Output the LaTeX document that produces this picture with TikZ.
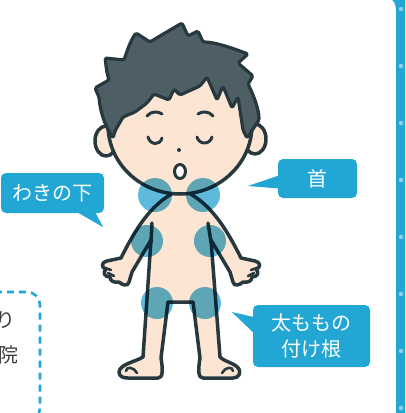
\documentclass[tikz,border=0pt]{standalone}
\usepackage{fontspec}
\newfontfamily\jp{Noto Sans CJK JP}
\usetikzlibrary{calc}
\definecolor{skyblue}{HTML}{22A7D5}
\definecolor{inkline}{HTML}{27393F}
\definecolor{haircol}{HTML}{4D5F64}
\definecolor{skin}{HTML}{FDE5D4}
\definecolor{spotcol}{HTML}{5FB9DA}
\definecolor{dotcol}{HTML}{8ED1EC}
\definecolor{txtgray}{HTML}{3C3C3C}
\tikzset{
  ink/.style={draw=inkline, line width=3.5pt, line join=round, line cap=round},
  bubble/.style={fill=skyblue, rounded corners=5pt, inner sep=0pt,
    text=white, font=\jp\fontsize{20}{26}\selectfont, align=center},
  spot/.style={fill=spotcol},
  sidetext/.style={text=txtgray, font=\jp\fontsize{20}{26}\selectfont, inner sep=0pt},
}
\begin{document}
\begin{tikzpicture}[x=1pt,y=-1pt]
\useasboundingbox (0,0) rectangle (405,413);

% body: arms, torso, legs and feet
\path[ink, fill=skin]
  (175,192) .. controls (150,205) and (135,230) .. (121,258)
  -- (107,261) .. controls (101,262) and (101,268) .. (106,269)
  .. controls (102,273) and (105,277) .. (110,277)
  .. controls (110,281) and (114,283) .. (119,282)
  .. controls (122,285) and (128,287) .. (129,282)
  -- (132,272) -- (151,240) -- (143,357)
  .. controls (135,362) and (120,364) .. (119,372)
  .. controls (119,377) and (124,378) .. (128,378)
  -- (158,378) .. controls (163,378) and (163,370) .. (161,358)
  -- (168,302) -- (193,302)
  -- (200,358) .. controls (198,370) and (198,378) .. (203,378)
  -- (233,378) .. controls (239,378) and (241,373) .. (239,369)
  .. controls (235,363) and (225,362) .. (220,357)
  -- (211,240) -- (230,272) -- (233,282)
  .. controls (234,287) and (240,285) .. (243,282)
  .. controls (248,283) and (252,281) .. (252,277)
  .. controls (257,277) and (260,273) .. (256,269)
  .. controls (261,268) and (261,262) .. (255,261)
  -- (241,258)
  .. controls (227,230) and (212,205) .. (187,192) -- cycle;
% torso lines above the armpits
\draw[ink] (152,223) -- (151,242);
\draw[ink] (208,223) -- (211,242);
% finger and toe strokes
\draw[ink, line width=2.6pt] (105,268) -- (111,270) (108,273) -- (114,276);
\draw[ink, line width=2.6pt] (257,268) -- (251,270) (254,273) -- (248,276);
\draw[ink, line width=2.6pt] (137,373) .. controls (134,367) and (126,366) .. (126,371);
\draw[ink, line width=2.6pt] (222,373) .. controls (225,367) and (233,366) .. (233,371);

% ears and face
\path[ink, fill=skin] (106,141) ellipse [x radius=11, y radius=15];
\path[ink, fill=skin] (255,139) ellipse [x radius=11, y radius=15];
\path[ink, fill=skin] (180,125) ellipse [x radius=72, y radius=69];

% hair
\path[ink, fill=haircol, line width=3.2pt, rounded corners=1.5pt]
  (113,138) .. controls (104,124) and (100,110) .. (99,97) -- (95,88)
  -- (109,80) .. controls (106,70) and (106,64) .. (105,58)
  -- (124,60) .. controls (128,48) and (131,40) .. (136,33)
  -- (150,42) -- (165,33) -- (182,23) -- (188,36)
  -- (198,31) -- (203,42) .. controls (215,42) and (232,48) .. (248,54)
  -- (238,63) -- (253,76) -- (248,84)
  .. controls (254,96) and (259,110) .. (259,120) -- (247,138)
  -- (243,130) -- (238,97) -- (232,108) -- (223,86) -- (217,100)
  -- (207,77) -- (200,86) -- (180,95) -- (174,89) -- (169,100)
  -- (154,94) -- (147,103) -- (135,112) -- (123,117) -- (115,131) -- cycle;

% face details
\draw[ink, line width=3pt] (147,116) .. controls (151,111) and (158,111) .. (162,114);
\draw[ink, line width=3pt] (198,114) .. controls (202,111) and (209,111) .. (213,116);
\draw[ink, line width=3pt] (148,137) .. controls (150,145) and (160,146) .. (162,138);
\draw[ink, line width=3pt] (197,137) .. controls (199,145) and (210,145) .. (212,137);
\fill[inkline] (179,150) circle (2);
\path[ink, fill=white, line width=3pt] (180,171.5) ellipse [x radius=5.5, y radius=7];

% lymph node spots
\begin{scope}[blend mode=multiply]
  \fill[spot] (155,195) circle (17);
  \fill[spot] (203,195) circle (17);
  \fill[spot] (147,241) circle (16);
  \fill[spot] (210,241) circle (16);
  \fill[spot] (157,303) circle (16);
  \fill[spot] (205,303) circle (16);
\end{scope}

% callouts
\node[bubble, minimum width=103pt, minimum height=40pt] (waki) at (52.5,193) {わきの下};
\fill[skyblue] ($(waki.south east)+(-27,-1)$) -- ($(waki.south east)+(-1,14)$) -- ($(waki.south east)+(-9,-1)$) -- cycle;
\node[bubble, minimum width=79pt, minimum height=39pt] (kubi) at (317.5,178.5) {首};
\fill[skyblue] ($(kubi.west)+(1,-3)$) -- ($(kubi.west)+(-30,7.5)$) -- ($(kubi.west)+(1,10)$) -- cycle;
\node[bubble, minimum width=117pt, minimum height=62pt] (momo) at (311.5,336) {太ももの\\付け根};
\fill[skyblue] ($(momo.west)+(1,-19)$) -- ($(momo.west)+(-21,-24)$) -- ($(momo.west)+(1,-3)$) -- cycle;

% dashed note box at the lower left
\draw[skyblue, line width=2.6pt, dash pattern=on 7pt off 5pt, rounded corners=13pt]
  (-30,292) rectangle (40,421);
\node[sidetext, anchor=east] (ri) at (16,320) {り};
\node[sidetext, anchor=east] (in) at (19,355) {院};

% ring-binder strip on the right edge
\fill[skyblue] (392,0) .. controls (395,2) and (396,6) .. (396,12) -- (396,413) -- (405,413) -- (405,0) -- cycle;
\foreach \k in {0,...,7}
  \fill[dotcol] (401,9+57*\k) circle (2.2);
\end{tikzpicture}
\end{document}
